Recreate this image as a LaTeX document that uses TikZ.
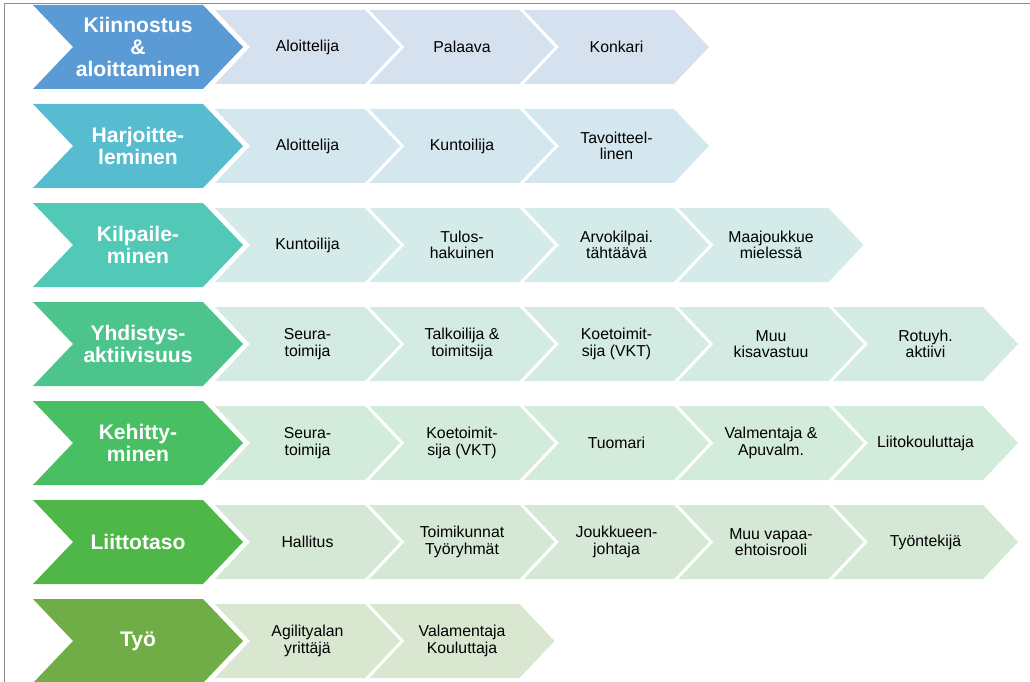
\documentclass[tikz,border=0pt]{standalone}
\usepackage{fontspec}
\setmainfont{Liberation Sans}
\usepackage{xcolor}
\usepackage{tikz}

\definecolor{mainA}{HTML}{5B9BD5}
\definecolor{mainB}{HTML}{57BCD0}
\definecolor{mainC}{HTML}{52C9B6}
\definecolor{mainD}{HTML}{4EC48D}
\definecolor{mainE}{HTML}{48BF62}
\definecolor{mainF}{HTML}{4EB748}
\definecolor{mainG}{HTML}{70AD47}
\definecolor{subA}{HTML}{D6E1F0}
\definecolor{subB}{HTML}{D5E7EE}
\definecolor{subC}{HTML}{D4EBEA}
\definecolor{subD}{HTML}{D3EBE2}
\definecolor{subE}{HTML}{D3EBDB}
\definecolor{subF}{HTML}{D4E8D5}
\definecolor{subG}{HTML}{D9E6D0}
\definecolor{framegray}{HTML}{8E8E8E}

\begin{document}
\begin{tikzpicture}[x=0.02cm,y=-0.02cm,
    frame/.style={draw=framegray,line width=0.85pt},
    maintext/.style={text=white,align=center,inner sep=0pt,
      font=\fontsize{12}{12.6}\selectfont\bfseries},
    subtext/.style={text=black,align=center,inner sep=0pt,
      font=\fontsize{9}{9.3}\selectfont}]
    \useasboundingbox (0,0) rectangle (1030,682);
    \draw[frame] (1030,3.5) -- (4.5,3.5) -- (4.5,682);
    % rows: number / main colour / sub colour / main label / sub labels
    \foreach \r/\mc/\sc/\mt/\subs in {
      1/mainA/subA/{Kiinnostus\\\&\\aloittaminen}/{Aloittelija,Palaava,Konkari},
      2/mainB/subB/{Harjoitte-\\leminen}/{Aloittelija,Kuntoilija,Tavoitteel-\\linen},
      3/mainC/subC/{Kilpaile-\\minen}/{Kuntoilija,Tulos-\\hakuinen,Arvokilpai.\\tähtäävä,Maajoukkue\\mielessä},
      4/mainD/subD/{Yhdistys-\\aktiivisuus}/{Seura-\\toimija,Talkoilija \&\\toimitsija,Koetoimit-\\sija (VKT),Muu\\kisavastuu,Rotuyh.\\aktiivi},
      5/mainE/subE/{Kehitty-\\minen}/{Seura-\\toimija,Koetoimit-\\sija (VKT),Tuomari,Valmentaja \&\\Apuvalm.,Liitokouluttaja},
      6/mainF/subF/{Liittotaso}/{Hallitus,Toimikunnat\\Työryhmät,Joukkueen-\\johtaja,Muu vapaa-\\ehtoisrooli,Työntekijä},
      7/mainG/subG/{Työ}/{Agilityalan\\yrittäjä,Valamentaja\\Kouluttaja}}{
      \pgfmathsetmacro\T{5+99*(\r-1)}
      % sub chevrons
      \foreach \s [count=\k] in \subs {
        \pgfmathsetmacro\L{215+154.5*(\k-1)}
        \fill[\sc] (\L,\T+5) -- (\L+150,\T+5) -- (\L+185,\T+42)
          -- (\L+150,\T+79) -- (\L,\T+79) -- (\L+35,\T+42) -- cycle;
        \node[subtext] (s\r-\k) at (\L+92.5,\T+42) {\s};
      }
      % main chevron
      \fill[\mc] (33,\T) -- (203,\T) -- (243,\T+42) -- (203,\T+84)
        -- (33,\T+84) -- (73,\T+42) -- cycle;
      \node[maintext] (m\r) at (138,\T+42) {\mt};
    }
  \end{tikzpicture}
\end{document}
